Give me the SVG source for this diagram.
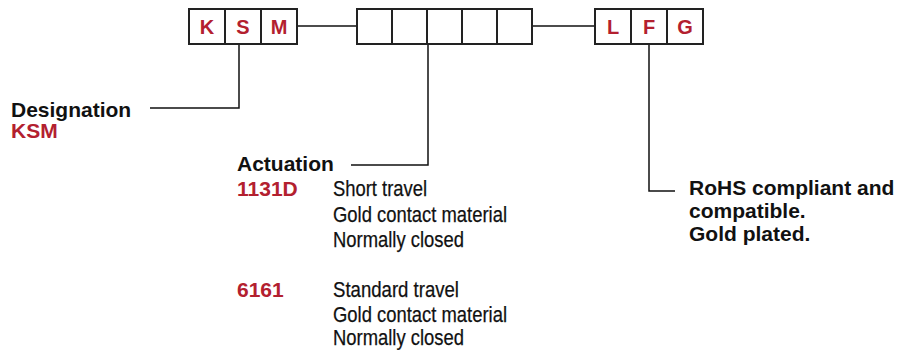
<svg xmlns="http://www.w3.org/2000/svg" width="902" height="350" viewBox="0 0 902 350">
<style>
.box{fill:#fff;stroke:#222;stroke-width:2}
.ln{fill:none;stroke:#111;stroke-width:1.5}
.code{font-family:"Liberation Sans",Arial,sans-serif;font-weight:bold;font-size:20px;fill:#b3202f;text-anchor:middle}
.hd{font-family:"Liberation Sans",Arial,sans-serif;font-weight:bold;font-size:21px;fill:#111}
.red{font-family:"Liberation Sans",Arial,sans-serif;font-weight:bold;font-size:21px;fill:#b3202f}
.desc{font-family:"Liberation Sans",Arial,sans-serif;font-size:22px;fill:#111;stroke:#111;stroke-width:0.25}
</style>
<rect width="902" height="350" fill="#fff"/>
<g id="connectors">
<line class="ln" x1="298" y1="26" x2="357" y2="26"/>
<line class="ln" x1="532" y1="26" x2="595" y2="26"/>
<polyline class="ln" points="239,44 239,108 150,108"/>
<polyline class="ln" points="428,44 428,165 351,165"/>
<polyline class="ln" points="649,44 649,191 675,191"/>
</g>
<g id="prefix">
<rect class="box" x="189" y="9" width="36" height="35"/>
<rect class="box" x="225" y="9" width="36" height="35"/>
<rect class="box" x="261" y="9" width="36" height="35"/>
<text class="code" x="207" y="34">K</text>
<text class="code" x="243" y="34">S</text>
<text class="code" x="279" y="34">M</text>
</g>
<g id="actuation-slots">
<rect class="box" x="357" y="9" width="35" height="35"/>
<rect class="box" x="392" y="9" width="35" height="35"/>
<rect class="box" x="427" y="9" width="35" height="35"/>
<rect class="box" x="462" y="9" width="35" height="35"/>
<rect class="box" x="497" y="9" width="35" height="35"/>
</g>
<g id="suffix">
<rect class="box" x="595" y="9" width="36" height="35"/>
<rect class="box" x="631" y="9" width="36" height="35"/>
<rect class="box" x="667" y="9" width="36" height="35"/>
<text class="code" x="613" y="34">L</text>
<text class="code" x="649" y="34">F</text>
<text class="code" x="685" y="34">G</text>
</g>
<g id="designation">
<text class="hd" x="11" y="116.5">Designation</text>
<text class="red" x="11" y="138">KSM</text>
</g>
<g id="actuation">
<text class="hd" x="237" y="170.5">Actuation</text>
<text class="red" x="237" y="196">1131D</text>
<text class="desc" x="333" y="196" textLength="94" lengthAdjust="spacingAndGlyphs">Short travel</text>
<text class="desc" x="333" y="222" textLength="174" lengthAdjust="spacingAndGlyphs">Gold contact material</text>
<text class="desc" x="333" y="247" textLength="131" lengthAdjust="spacingAndGlyphs">Normally closed</text>
<text class="red" x="237" y="296.5">6161</text>
<text class="desc" x="333" y="296.5" textLength="126" lengthAdjust="spacingAndGlyphs">Standard travel</text>
<text class="desc" x="333" y="322" textLength="174" lengthAdjust="spacingAndGlyphs">Gold contact material</text>
<text class="desc" x="333" y="345" textLength="131" lengthAdjust="spacingAndGlyphs">Normally closed</text>
</g>
<g id="rohs">
<text class="hd" x="689" y="195">RoHS compliant and</text>
<text class="hd" x="689" y="218">compatible.</text>
<text class="hd" x="689" y="241">Gold plated.</text>
</g>
</svg>
